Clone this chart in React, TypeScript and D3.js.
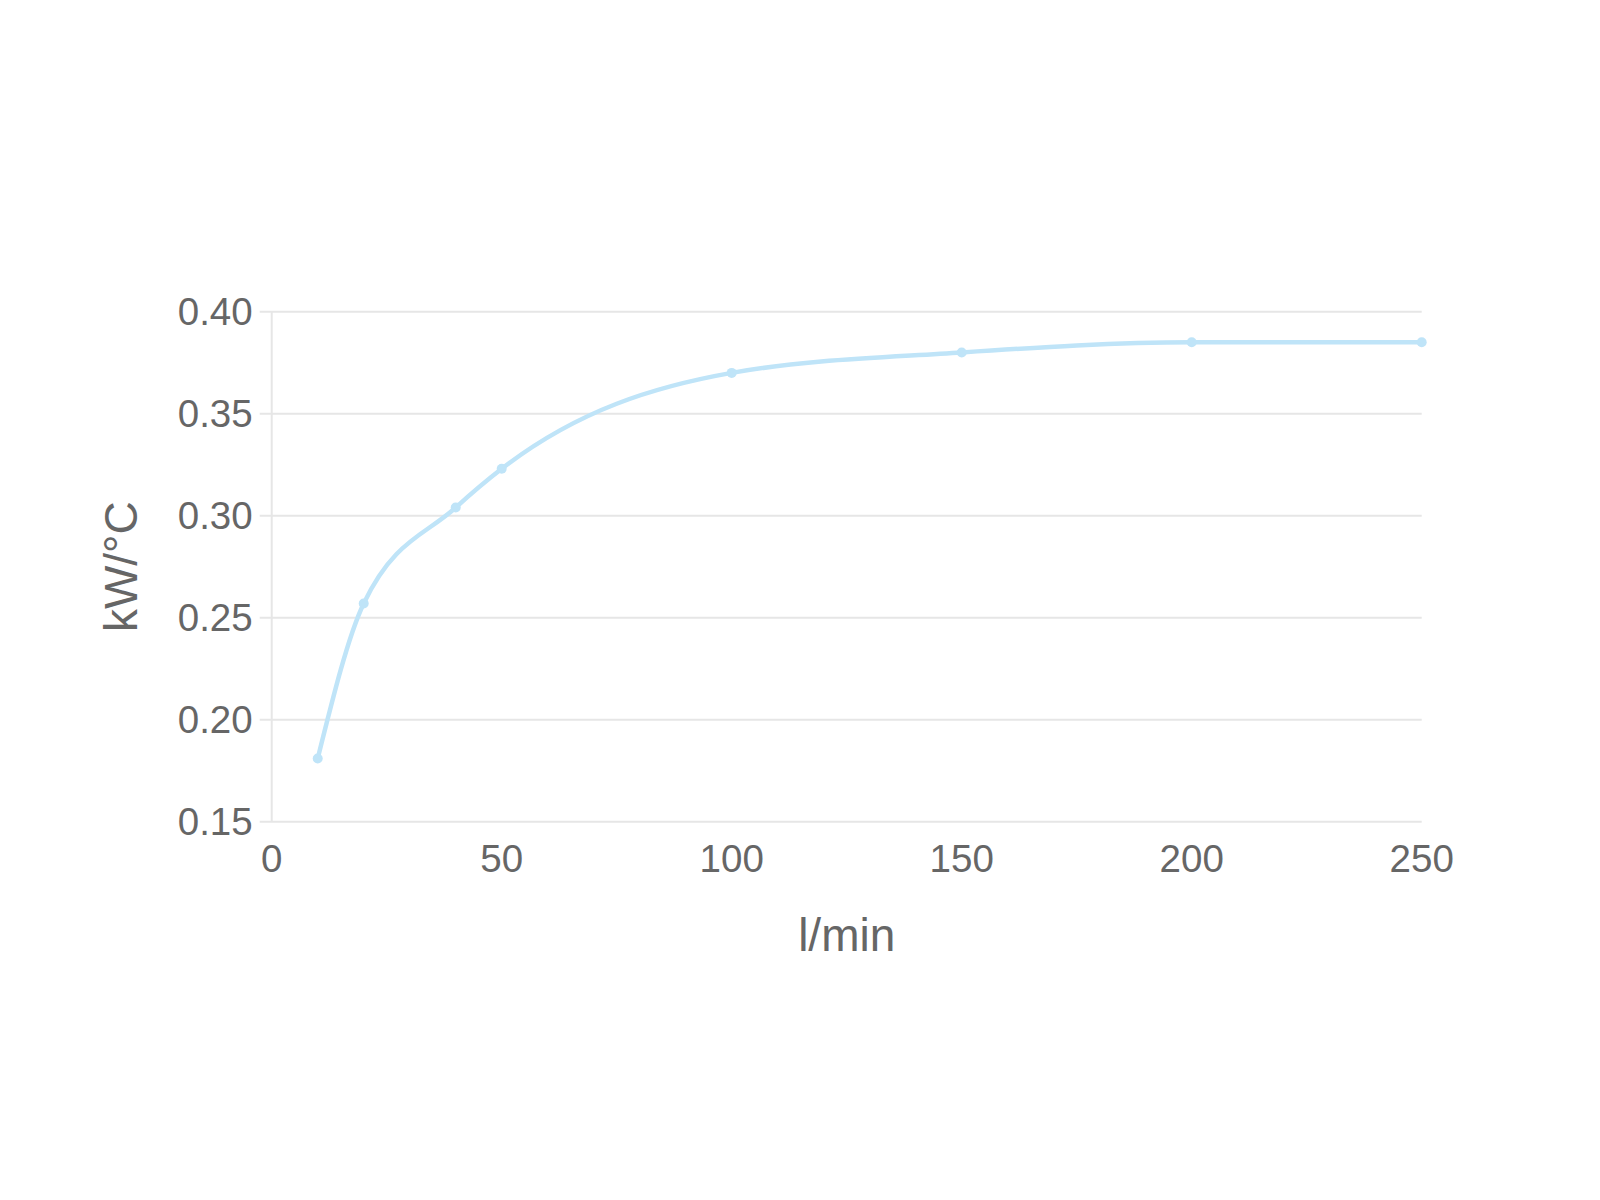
import { useEffect, useRef } from 'react';
import * as d3 from 'd3';

const flowRates = [10, 20, 40, 50, 100, 150, 200, 250];
const conductance = [0.181, 0.257, 0.304, 0.323, 0.37, 0.38, 0.385, 0.385];
const xTicks = [0, 50, 100, 150, 200, 250];
const yTicks = [0.15, 0.2, 0.25, 0.3, 0.35, 0.4];

const App = () => {
  const ref = useRef<SVGSVGElement | null>(null);

  useEffect(() => {
    if (!ref.current) return;
    const svg = d3.select(ref.current);
    svg.selectAll('*').remove();
    const width = 1600;
    const height = 1200;
    const margin = { top: 311.7, right: 178.3, bottom: 378.3, left: 271.7 };
    const font = '"Liberation Sans", Arial, sans-serif';
    const textColor = '#666';
    const gridColor = '#e6e6e6';

    svg.attr('width', width).attr('height', height);

    const x = d3
      .scaleLinear()
      .domain([0, 250])
      .range([margin.left, width - margin.right]);

    const y = d3
      .scaleLinear()
      .domain([0.15, 0.4])
      .range([height - margin.bottom, margin.top]);

    // horizontal grid lines with tick stubs
    svg
      .append('g')
      .selectAll('line')
      .data(yTicks)
      .join('line')
      .attr('x1', margin.left - 12)
      .attr('x2', width - margin.right)
      .attr('y1', (d) => y(d))
      .attr('y2', (d) => y(d))
      .attr('stroke', gridColor)
      .attr('stroke-width', 2);

    // left border
    svg
      .append('line')
      .attr('x1', x(0))
      .attr('x2', x(0))
      .attr('y1', y(0.4))
      .attr('y2', y(0.15))
      .attr('stroke', gridColor)
      .attr('stroke-width', 2);

    svg
      .append('g')
      .selectAll('text')
      .data(yTicks)
      .join('text')
      .attr('x', margin.left - 19)
      .attr('y', (d) => y(d))
      .attr('dy', '0.35em')
      .attr('text-anchor', 'end')
      .attr('font-family', font)
      .attr('font-size', 38.5)
      .attr('fill', textColor)
      .text((d) => d3.format('.2f')(d));

    svg
      .append('g')
      .selectAll('text')
      .data(xTicks)
      .join('text')
      .attr('x', (d) => x(d))
      .attr('y', height - margin.bottom + 50)
      .attr('text-anchor', 'middle')
      .attr('font-family', font)
      .attr('font-size', 38.5)
      .attr('fill', textColor)
      .text((d) => d);

    svg
      .append('text')
      .attr('x', (margin.left + width - margin.right) / 2)
      .attr('y', 951)
      .attr('text-anchor', 'middle')
      .attr('font-family', font)
      .attr('font-size', 46)
      .attr('fill', textColor)
      .text('l/min');

    svg
      .append('text')
      .attr('transform', `translate(137,${(y(0.4) + y(0.15)) / 2}) rotate(-90)`)
      .attr('text-anchor', 'middle')
      .attr('font-family', font)
      .attr('font-size', 46)
      .attr('fill', textColor)
      .text('kW/°C');

    const pts = flowRates.map((f, i) => [x(f), y(conductance[i])] as [number, number]);
    const lineColor = '#bfe4f8';

    const line = d3.line().curve(d3.curveMonotoneX);

    svg
      .append('path')
      .attr('d', line(pts))
      .attr('fill', 'none')
      .attr('stroke', lineColor)
      .attr('stroke-width', 4.5);

    svg
      .append('g')
      .selectAll('circle')
      .data(pts)
      .join('circle')
      .attr('cx', (d) => d[0])
      .attr('cy', (d) => d[1])
      .attr('r', 5)
      .attr('fill', lineColor);
  }, []);

  return <svg ref={ref} style={{ position: 'absolute', left: 0, top: 0 }} />;
};

export default App;
